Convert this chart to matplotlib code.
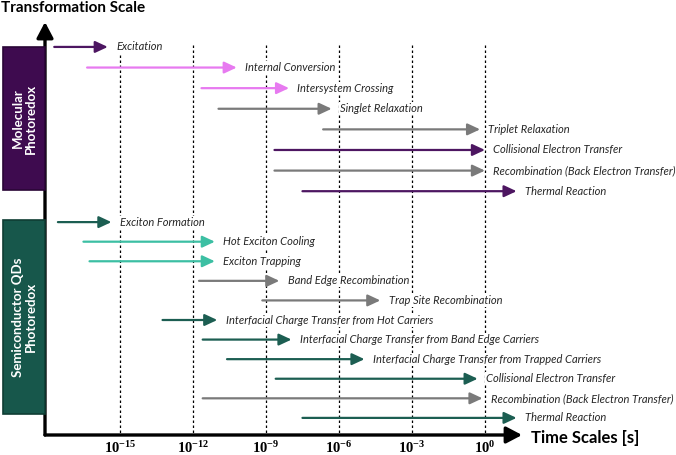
import numpy as np
import matplotlib
matplotlib.use("Agg")
import matplotlib.pyplot as plt
import matplotlib.transforms as mtransforms
from matplotlib.patches import Rectangle

# colours
PURPLE = "#4d1661"
MAGENTA = "#e77af0"
GREY = "#7a7a7a"
GREEN = "#1c5e52"
TEAL = "#3cbfa3"
BOX_PURPLE = "#3e0b4f"
BOX_GREEN = "#17574b"

# molecular photoredox processes (log10 of time in s)
mol_labels = ["Excitation", "Internal Conversion", "Intersystem Crossing",
              "Singlet Relaxation", "Triplet Relaxation",
              "Collisional Electron Transfer",
              "Recombination (Back Electron Transfer)", "Thermal Reaction"]
mol_start = [-17.7, -16.35, -11.65, -10.95, -6.65, -8.65, -8.65, -7.5]
mol_end = [-15.5, -10.2, -8.05, -6.3, -0.2, 0.0, 0.0, 1.3]
mol_colors = [PURPLE, MAGENTA, MAGENTA, GREY, GREY, PURPLE, GREY, PURPLE]

# semiconductor QD photoredox processes (log10 of time in s)
qd_labels = ["Exciton Formation", "Hot Exciton Cooling", "Exciton Trapping",
             "Band Edge Recombination", "Trap Site Recombination",
             "Interfacial Charge Transfer from Hot Carriers",
             "Interfacial Charge Transfer from Band Edge Carriers",
             "Interfacial Charge Transfer from Trapped Carriers",
             "Collisional Electron Transfer",
             "Recombination (Back Electron Transfer)", "Thermal Reaction"]
qd_start = [-17.55, -16.5, -16.25, -11.75, -9.15, -13.25, -11.6, -10.6, -8.6, -11.6, -7.5]
qd_end = [-15.35, -11.1, -11.1, -8.45, -4.3, -11.0, -7.95, -4.95, -0.3, -0.1, 1.3]
qd_colors = [GREEN, TEAL, TEAL, GREY, GREY, GREEN, GREEN, GREEN, GREEN, GREY, GREEN]

tick_exps = [-15, -12, -9, -6, -3, 0]

plt.rcParams['font.family'] = ['Lato', 'DejaVu Sans']
plt.rcParams['mathtext.fontset'] = 'custom'
plt.rcParams['mathtext.rm'] = 'Liberation Serif:bold'
plt.rcParams['mathtext.it'] = 'Liberation Serif:bold'
plt.rcParams['mathtext.bf'] = 'Liberation Serif:bold'

W, H = 676, 455
fig = plt.figure(figsize=(W / 100, H / 100), dpi=100)
ax = fig.add_axes([45 / W, 20 / H, 631 / W, 413 / H])
ax.set_xscale('log')
ax.set_xlim(10 ** -18.08, 10 ** 7.85)
ax.set_ylim(18.83, -1.21)
for s in ax.spines.values():
    s.set_visible(False)
ax.set_xticks([])
ax.set_yticks([])
ax.minorticks_off()

mol_y = np.arange(len(mol_labels)) * 1.0
qd_y = 8.5 + np.arange(len(qd_labels)) * 0.95

# dotted grid lines
ax.vlines([10.0 ** e for e in tick_exps], -0.1, 18.83, colors='black',
          linestyles=(0, (2, 2)), lw=0.9, zorder=1)


def draw_rows(ys, starts, ends, colors, labels):
    for y, a, b, c, lab in zip(ys, starts, ends, colors, labels):
        ax.annotate('', xy=(10.0 ** b, y), xytext=(10.0 ** a, y),
                    arrowprops=dict(arrowstyle='-|>,head_length=0.75,head_width=0.35',
                                    color=c, lw=1.6, shrinkA=0, shrinkB=0,
                                    mutation_scale=10), zorder=2)
        ax.annotate(lab, xy=(10.0 ** b, y), xytext=(6, 0), textcoords='offset points',
                    ha='left', va='center', fontsize=8, style='italic', color='#262626',
                    bbox=dict(boxstyle='square,pad=0.1', fc='white', ec='none'),
                    zorder=3)


draw_rows(mol_y, mol_start, mol_end, mol_colors, mol_labels)
draw_rows(qd_y, qd_start, qd_end, qd_colors, qd_labels)

# tick labels
for e in tick_exps:
    ax.annotate(r'$10^{%d}$' % e, xy=(10.0 ** e, 18.83), xytext=(0, -4),
                textcoords='offset points', ha='center', va='top', fontsize=10.5,
                annotation_clip=False)

# axis arrows
ax.annotate('', xy=(0.756, 0), xytext=(0, 0), xycoords='axes fraction',
            textcoords='axes fraction',
            arrowprops=dict(arrowstyle='-|>,head_length=0.95,head_width=0.5',
                            color='black', lw=2.4, shrinkA=0, shrinkB=0,
                            mutation_scale=10), annotation_clip=False)
ax.annotate('', xy=(0, 1.0), xytext=(0, 0), xycoords='axes fraction',
            textcoords='axes fraction',
            arrowprops=dict(arrowstyle='-|>,head_length=0.95,head_width=0.5',
                            color='black', lw=2.4, shrinkA=0, shrinkB=0,
                            mutation_scale=10), annotation_clip=False)

fig.text(531 / W, 1 - 438 / H, 'Time Scales [s]', ha='left', va='center',
         fontsize=12, fontweight='bold')
fig.text(0.002, 1 - 8 / H, 'Transformation Scale', ha='left', va='center',
         fontsize=11, fontweight='bold')

# group boxes
trans = mtransforms.blended_transform_factory(ax.transAxes, ax.transData)
bx0 = (3 - 45) / 631
for y0, y1, fc, ec, txt in [(0.0, 6.94, BOX_PURPLE, '#2a0636', 'Molecular\nPhotoredox'),
                             (8.4, 17.82, BOX_GREEN, '#0f3d34', 'Semiconductor QDs\nPhotoredox')]:
    ax.add_patch(Rectangle((bx0, y0), -bx0, y1 - y0, transform=trans, fc=fc, ec=ec,
                           lw=1.2, clip_on=False, zorder=4))
    ax.text(bx0 / 2, (y0 + y1) / 2, txt, transform=trans, rotation=90, ha='center',
            va='center', color='white', fontsize=9.5, fontweight='bold',
            multialignment='center', linespacing=1.1, zorder=5, clip_on=False)

fig.savefig('out.png', dpi=100)
